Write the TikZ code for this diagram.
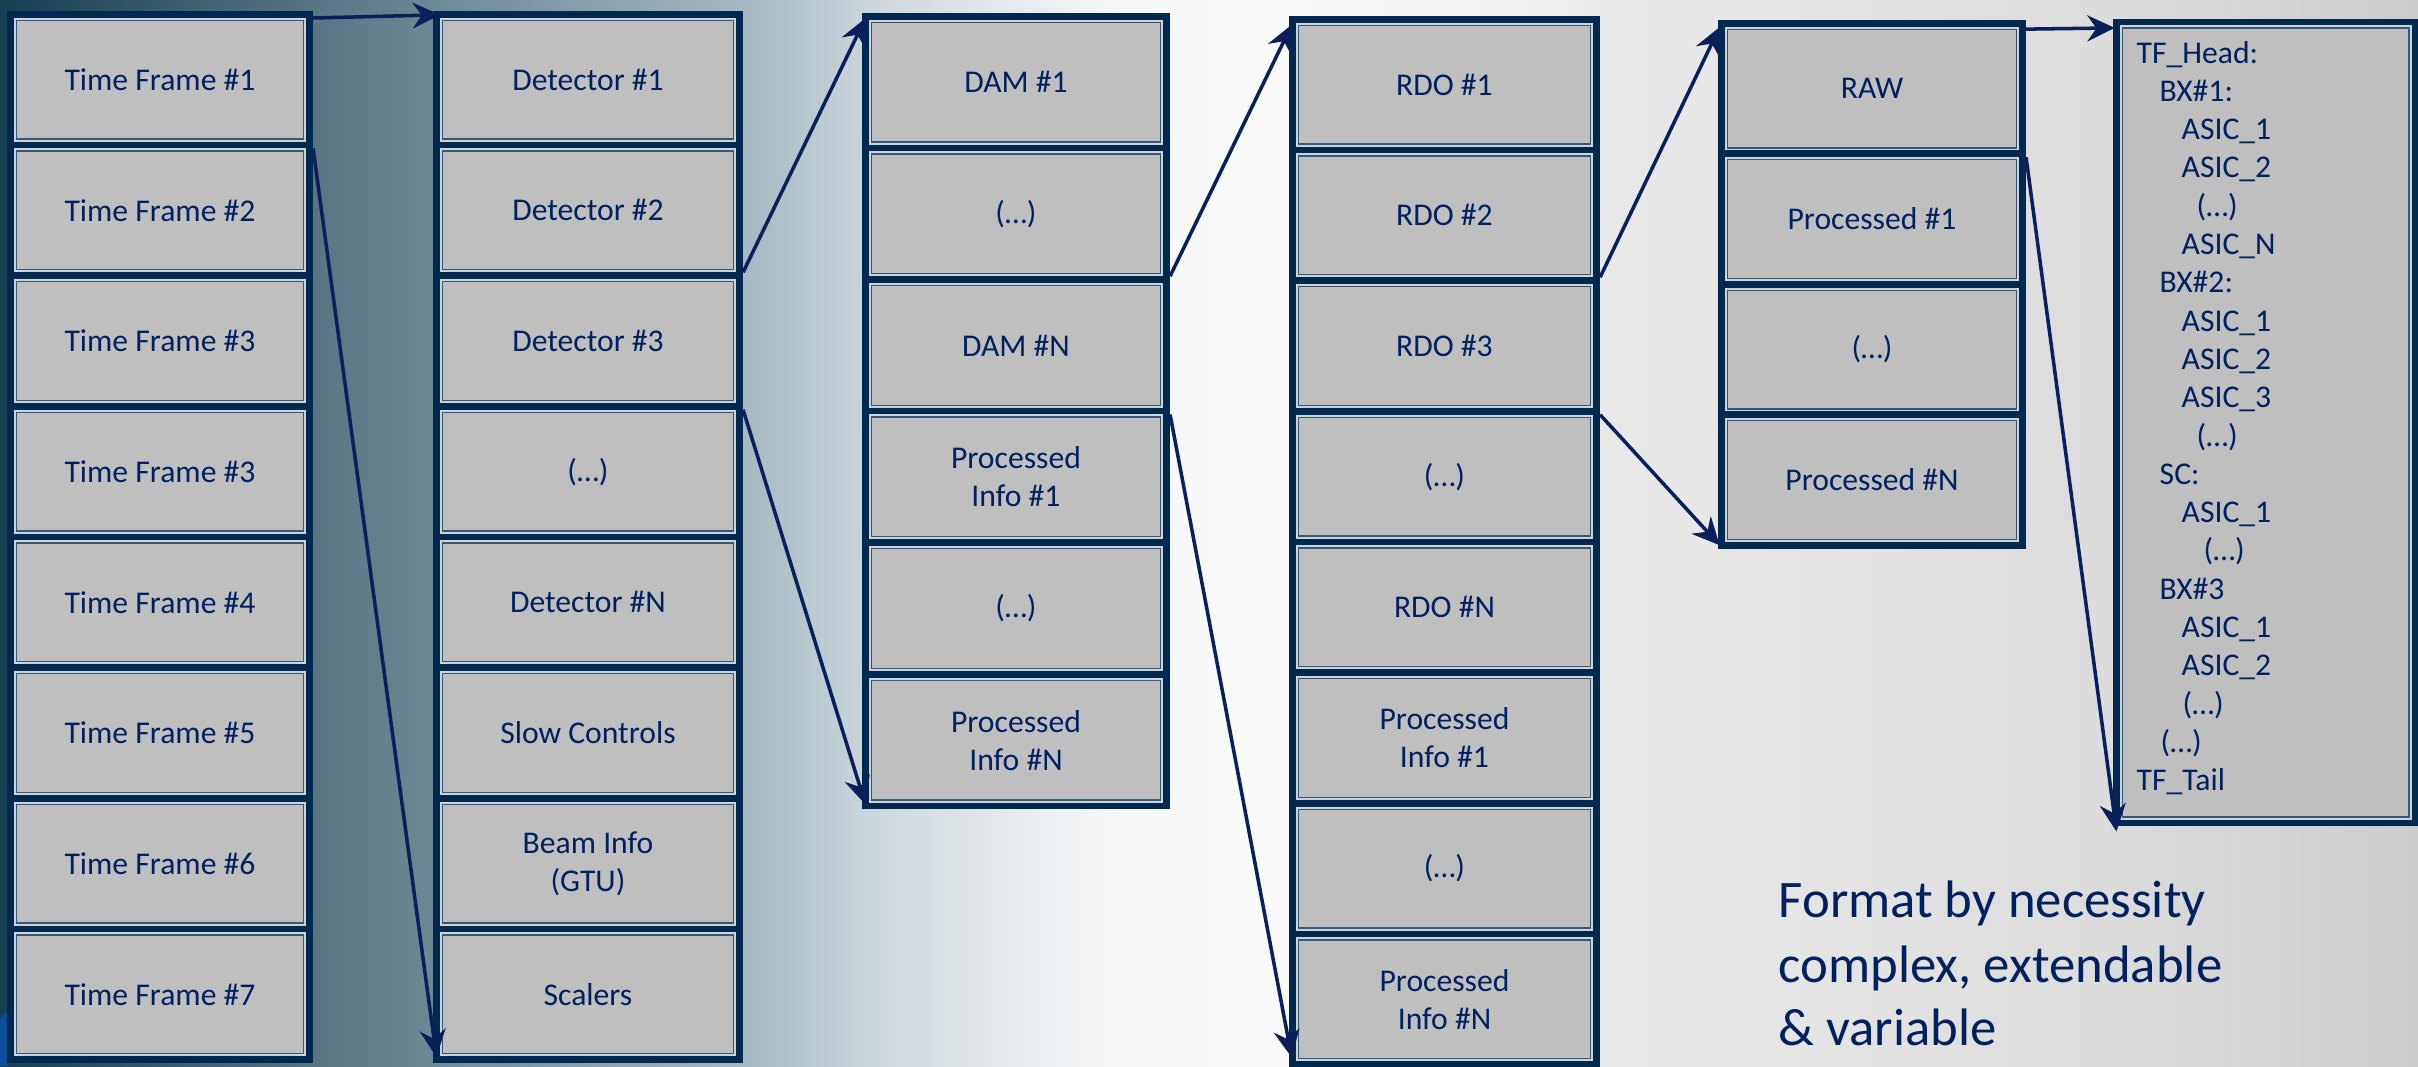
\documentclass[tikz,border=0pt]{standalone}
\usepackage{fontspec}
\setmainfont{Carlito}
\usetikzlibrary{arrows.meta}
\definecolor{frameblue}{HTML}{00294F}
\definecolor{cellgray}{HTML}{BFBFBF}
\definecolor{gapline}{HTML}{D0D3D6}
\definecolor{innerline}{HTML}{34587A}
\definecolor{txtblue}{HTML}{002060}
\definecolor{arrowblue}{HTML}{0A1F5C}
\definecolor{cornerblue}{HTML}{0B4F9C}
\definecolor{bgA}{HTML}{163F52}
\definecolor{bgB}{HTML}{587683}
\definecolor{bgC}{HTML}{6B8995}
\definecolor{bgD}{HTML}{A6B8C1}
\definecolor{bgE}{HTML}{C9D4DA}
\definecolor{bgF}{HTML}{E4E9EC}
\definecolor{bgG}{HTML}{F7F8F8}
\definecolor{bgH}{HTML}{F9F9F9}
\definecolor{bgI}{HTML}{EEEEEE}
\definecolor{bgJ}{HTML}{E8E8E8}
\definecolor{bgK}{HTML}{E6E6E6}
\definecolor{bgL}{HTML}{DCDCDC}
\definecolor{bgM}{HTML}{CDCDCD}
\pgfdeclarehorizontalshading{bgshade}{100bp}{color(0bp)=(bgA); color(25bp)=(bgA); color(31.62bp)=(bgB); color(33.89bp)=(bgC); color(40.41bp)=(bgD); color(42.78bp)=(bgE); color(45.68bp)=(bgF); color(48.16bp)=(bgG); color(51.88bp)=(bgH); color(57.26bp)=(bgI); color(58.29bp)=(bgJ); color(61.19bp)=(bgK); color(68.42bp)=(bgL); color(75bp)=(bgM); color(100bp)=(bgM)}
\tikzset{
  cell/.style={rectangle, draw=frameblue, line width=1.9pt, fill=cellgray, inner sep=0pt,
    text=txtblue, align=center, font=\fontsize{9}{10.8}\selectfont,
    path picture={
      \draw[gapline, line width=0.57pt]
        ([shift={(1.24pt,-1.24pt)}]path picture bounding box.north west) rectangle
        ([shift={(-1.24pt,1.24pt)}]path picture bounding box.south east);
      \draw[innerline, line width=0.37pt]
        ([shift={(1.71pt,-1.71pt)}]path picture bounding box.north west) rectangle
        ([shift={(-1.71pt,1.71pt)}]path picture bounding box.south east);
    }},
  cola/.style={cell, minimum width=85.16pt, minimum height=37.18pt},
  colb/.style={cell, minimum width=86.30pt, minimum height=37.18pt},
  colc/.style={cell, minimum width=85.73pt, minimum height=37.44pt},
  cold/.style={cell, minimum width=86.58pt, minimum height=37.17pt},
  cole/.style={cell, minimum width=85.73pt, minimum height=37.13pt},
  colf/.style={cell, minimum width=84.97pt, minimum height=227.71pt},
  listtext/.style={inner sep=0pt, anchor=base west, text=txtblue, font=\fontsize{9}{10.8}\selectfont},
  bigtext/.style={inner sep=0pt, anchor=base west, text=txtblue, font=\fontsize{15}{18.2}\selectfont},
  conn/.style={draw=arrowblue, line width=1pt, -{Stealth[length=7.8pt,width=7.4pt,inset=2.6pt]}}
}
\begin{document}
\begin{tikzpicture}[x=0.01cm,y=-0.01cm]
\useasboundingbox (0,0) rectangle (2418,1066);
\shade[shading=bgshade] (0,0) rectangle (2418,1066);
\fill[cornerblue] (0,1018) -- (8,1012) -- (8,1066) -- (0,1066) -- cycle;

% column 1
\node[cola] (tf1) at (160,79.68) {Time Frame \#1};
\node[cola] (tf2) at (160,210.34) {Time Frame \#2};
\node[cola] (tf3) at (160,341.0) {Time Frame \#3};
\node[cola] (tf3b) at (160,471.66) {Time Frame \#3};
\node[cola] (tf4) at (160,602.32) {Time Frame \#4};
\node[cola] (tf5) at (160,732.98) {Time Frame \#5};
\node[cola] (tf6) at (160,863.64) {Time Frame \#6};
\node[cola] (tf7) at (160,994.3) {Time Frame \#7};

% column 2
\node[colb] (det1) at (588,79.68) {Detector \#1};
\node[colb] (det2) at (588,210.34) {Detector \#2};
\node[colb] (det3) at (588,341.0) {Detector \#3};
\node[colb] (detx) at (588,471.66) {(…)};
\node[colb] (detn) at (588,602.32) {Detector \#N};
\node[colb] (slow) at (588,732.98) {Slow Controls};
\node[colb] (beam) at (588,863.64) {Beam Info\\(GTU)};
\node[colb] (scal) at (588,994.3) {Scalers};

% column 3
\node[colc] (dam1) at (1016,82.15) {DAM \#1};
\node[colc] (damx) at (1016,213.75) {(…)};
\node[colc] (damn) at (1016,345.35) {DAM \#N};
\node[colc] (dpi1) at (1016,476.95) {Processed\\Info \#1};
\node[colc] (dpix) at (1016,608.55) {(…)};
\node[colc] (dpin) at (1016,740.15) {Processed\\Info \#N};

% column 4
\node[cold] (rdo1) at (1444.5,84.68) {RDO \#1};
\node[cold] (rdo2) at (1444.5,215.33) {RDO \#2};
\node[cold] (rdo3) at (1444.5,345.98) {RDO \#3};
\node[cold] (rdox) at (1444.5,476.63) {(…)};
\node[cold] (rdon) at (1444.5,607.28) {RDO \#N};
\node[cold] (rpi1) at (1444.5,737.93) {Processed\\Info \#1};
\node[cold] (rpix) at (1444.5,868.58) {(…)};
\node[cold] (rpin) at (1444.5,999.23) {Processed\\Info \#N};

% column 5
\node[cole] (raw) at (1872,88.6) {RAW};
\node[cole] (pr1) at (1872,219.1) {Processed \#1};
\node[cole] (prx) at (1872,349.6) {(…)};
\node[cole] (prn) at (1872,480.1) {Processed \#N};

% column 6
\node[colf] (tfbox) at (2265.7,422.5) {};
\foreach \dx/\t [count=\k] in {0/{TF\_Head:}, 23/{BX\#1:}, 45/{ASIC\_1}, 45/{ASIC\_2}, 60/{(…)}, 45/{ASIC\_N},
    23/{BX\#2:}, 45/{ASIC\_1}, 45/{ASIC\_2}, 45/{ASIC\_3}, 60/{(…)}, 23/{SC:}, 45/{ASIC\_1}, 67/{(…)},
    23/{BX\#3}, 45/{ASIC\_1}, 45/{ASIC\_2}, 46/{(…)}, 24/{(…)}, 0/{TF\_Tail}}
  \node[listtext] (tl\k) at ({2136+\dx},{63+38.3*(\k-1)}) {\t};

% note
\node[bigtext] (fmt1) at (1778,917) {Format by necessity};
\node[bigtext] (fmt2) at (1778,982) {complex, extendable};
\node[bigtext] (fmt3) at (1778,1045) {\& variable};

% connectors
\draw[conn] ([yshift=-2pt]tf1.north east) -- ([xshift=2pt,yshift=-1.1pt]det1.north west);
\draw[conn] (tf1.south east) -- ([xshift=1pt,yshift=1.7pt]scal.south west);
\draw[conn] (det3.north east) -- ([xshift=1pt,yshift=-1.5pt]dam1.north west);
\draw[conn] (det3.south east) -- ([xshift=1pt,yshift=1.4pt]dpin.south west);
\draw[conn] (damn.north east) -- ([xshift=0.8pt,yshift=-2.5pt]rdo1.north west);
\draw[conn] (damn.south east) -- ([xshift=0.8pt,yshift=3pt]rpin.south west);
\draw[conn] (rdo3.north east) -- ([xshift=0.5pt,yshift=-2pt]raw.north west);
\draw[conn] (rdo3.south east) -- ([xshift=0.5pt,yshift=1pt]prn.south west);
\draw[conn] ([yshift=-2.6pt]raw.north east) -- ([xshift=0.5pt,yshift=-2.6pt]tfbox.north west);
\draw[conn] (raw.south east) -- ([xshift=1pt,yshift=-1.5pt]tfbox.south west);
\end{tikzpicture}
\end{document}
